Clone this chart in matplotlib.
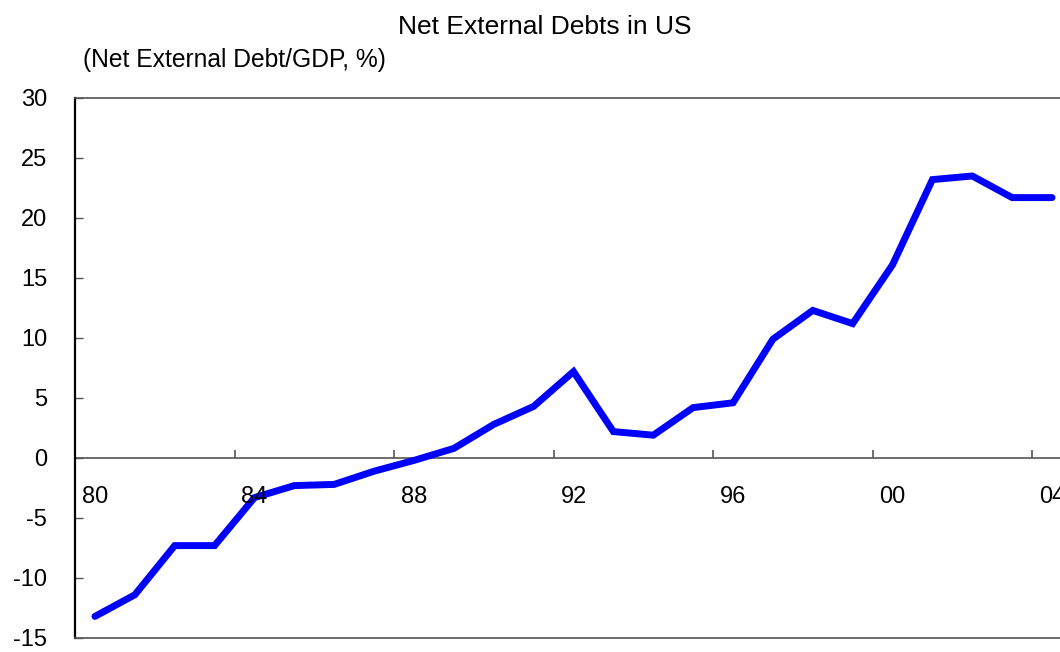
import numpy as np
import matplotlib
matplotlib.use("Agg")
from matplotlib import pyplot as plt

plt.rcParams['font.family'] = ['Liberation Sans Narrow', 'Liberation Sans', 'DejaVu Sans']

# data: net external debt / GDP (%), 1980-2004
years = list(range(1980, 2005))
debt = [-13.2, -11.4, -7.3, -7.3, -3.3, -2.3, -2.2, -1.1, -0.2, 0.8,
        2.8, 4.3, 7.2, 2.2, 1.9, 4.2, 4.6, 9.9, 12.3, 11.2,
        16.1, 23.2, 23.5, 21.7, 21.7]
label_years = ['80', '84', '88', '92', '96', '00', '04']
y_ticks = [30, 25, 20, 15, 10, 5, 0, -5, -10, -15]

fig = plt.figure(figsize=(10.6, 6.52), dpi=100)
ax = fig.add_axes([75/1060, 14/652, 997/1060, 540/652])

x = np.arange(len(years)) + 0.5
ax.plot(x, debt, color='#0000ff', lw=5, solid_capstyle='round', solid_joinstyle='miter', zorder=3)

ax.set_xlim(0, len(years))
ax.set_ylim(-15, 30)

# zero line with tick marks at every 4 years
ax.axhline(0, color='#555555', lw=1.2, zorder=1)
tick_pos = np.arange(4, len(years), 4)
ax.plot(tick_pos, np.zeros(len(tick_pos)), ls='none', marker=2, markersize=6,
        markeredgewidth=1.2, color='#555555')
for i, lab in enumerate(label_years):
    ax.annotate(lab, (i*4 + 0.5, 0), xytext=(0, -28), textcoords='offset points',
                ha='center', va='center', fontsize=17)

ax.set_xticks([])
ax.set_yticks(y_ticks)
ax.set_yticklabels([str(v) for v in y_ticks], fontsize=17)
ax.tick_params(axis='y', direction='in', length=6, width=1, pad=20, color='#555555')

for s in ['top', 'bottom']:
    ax.spines[s].set_color('#555555')
    ax.spines[s].set_linewidth(1.2)
ax.spines['left'].set_color('black')
ax.spines['left'].set_linewidth(1.6)
ax.spines['right'].set_visible(False)

fig.text(545/1060, 1 - 27/652, 'Net External Debts in US', ha='center', va='center', fontsize=19)
fig.text(83/1060, 1 - 60/652, '(Net External Debt/GDP, %)', ha='left', va='center', fontsize=17.7)

fig.savefig('out.png', dpi=100)
